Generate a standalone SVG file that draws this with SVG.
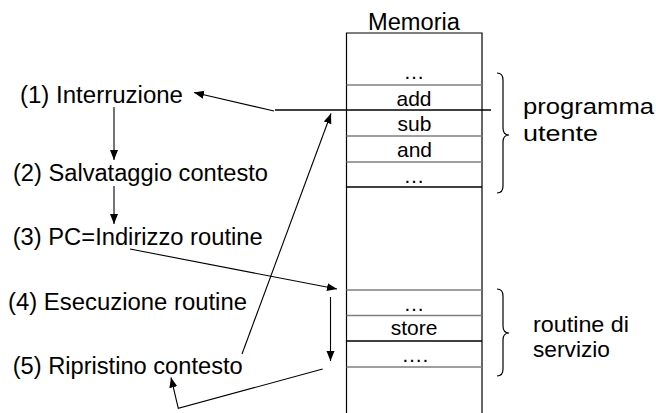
<svg xmlns="http://www.w3.org/2000/svg" width="656" height="413" viewBox="0 0 656 413">
<style>
text{font-family:"Liberation Sans",Arial,sans-serif;fill:#000}
.lbl{font-size:23px}
.side{font-size:22px}
.cell{font-size:21px;text-anchor:middle}
.ln{stroke:#000;stroke-width:1.2;fill:none}
.gray{stroke:#7f7f7f;stroke-width:1.5}
.blk{stroke:#000;stroke-width:1.5}
.arr{stroke:#000;stroke-width:1.1;fill:none;marker-end:url(#ah)}
</style>
<defs>
<marker id="ah" markerUnits="userSpaceOnUse" markerWidth="12" markerHeight="10" refX="10" refY="4" orient="auto">
<path d="M0,0 L10,4 L0,8 Z" fill="#000"/>
</marker>
</defs>
<rect width="656" height="413" fill="#fff"/>
<g id="memoria">
<text class="lbl" x="368" y="30" textLength="92" lengthAdjust="spacingAndGlyphs">Memoria</text>
<path class="ln" d="M346.5,413 V33 H482 V413"/>
<line class="gray" x1="346.5" y1="85" x2="482" y2="85"/>
<line class="blk" x1="275" y1="110" x2="491" y2="110"/>
<line class="gray" x1="346.5" y1="136" x2="482" y2="136"/>
<line class="gray" x1="346.5" y1="162" x2="482" y2="162"/>
<line class="blk" x1="346.5" y1="187" x2="482" y2="187"/>
<line class="gray" x1="346.5" y1="290" x2="482" y2="290"/>
<line class="gray" x1="346.5" y1="315.5" x2="482" y2="315.5"/>
<line class="blk" x1="346.5" y1="341" x2="482" y2="341"/>
<line class="gray" x1="346.5" y1="367" x2="482" y2="367"/>
<text class="cell" x="414" y="79">…</text>
<text class="cell" x="414" y="106">add</text>
<text class="cell" x="414.5" y="131">sub</text>
<text class="cell" x="414.5" y="157">and</text>
<text class="cell" x="414" y="183">…</text>
<text class="cell" x="414" y="311">…</text>
<text class="cell" x="414" y="335">store</text>
<text class="cell" x="415" y="362">….</text>
</g>
<g id="step1"><text class="lbl" x="20" y="103" textLength="163" lengthAdjust="spacingAndGlyphs">(1) Interruzione</text></g>
<g id="step2"><text class="lbl" x="13" y="181" textLength="255" lengthAdjust="spacingAndGlyphs">(2) Salvataggio contesto</text></g>
<g id="step3"><text class="lbl" x="12.7" y="245" textLength="250" lengthAdjust="spacingAndGlyphs">(3) PC=Indirizzo routine</text></g>
<g id="step4"><text class="lbl" x="8" y="310" textLength="239" lengthAdjust="spacingAndGlyphs">(4) Esecuzione routine</text></g>
<g id="step5"><text class="lbl" x="12.7" y="374" textLength="230" lengthAdjust="spacingAndGlyphs">(5) Ripristino contesto</text></g>
<g id="programma">
<path class="ln" d="M497,73 Q503,73 503,80 V128 Q503,135 509,135 Q503,135 503,142 V186 Q503,193 497,193"/>
<text class="side" x="523" y="114" textLength="131" lengthAdjust="spacingAndGlyphs">programma</text>
<text class="side" x="523" y="141" textLength="75" lengthAdjust="spacingAndGlyphs">utente</text>
</g>
<g id="routine">
<path class="ln" d="M497,289 Q503,289 503,296 V326 Q503,333 509,333 Q503,333 503,340 V369 Q503,376 497,376"/>
<text class="side" x="533" y="332" textLength="96" lengthAdjust="spacingAndGlyphs">routine di</text>
<text class="side" x="533" y="357" textLength="77" lengthAdjust="spacingAndGlyphs">servizio</text>
</g>
<g id="connectors">
<line class="arr" x1="274" y1="111" x2="194" y2="92.5"/>
<line class="arr" x1="114" y1="107" x2="114" y2="160"/>
<line class="arr" x1="114" y1="186" x2="114" y2="224"/>
<line class="arr" x1="130" y1="249" x2="337" y2="289"/>
<line class="arr" x1="330.5" y1="297" x2="330.5" y2="361"/>
<polyline class="arr" points="322.7,369 178.3,408.3 171,377.5"/>
<line class="arr" x1="242" y1="354" x2="331" y2="113.5"/>
</g>
</svg>
